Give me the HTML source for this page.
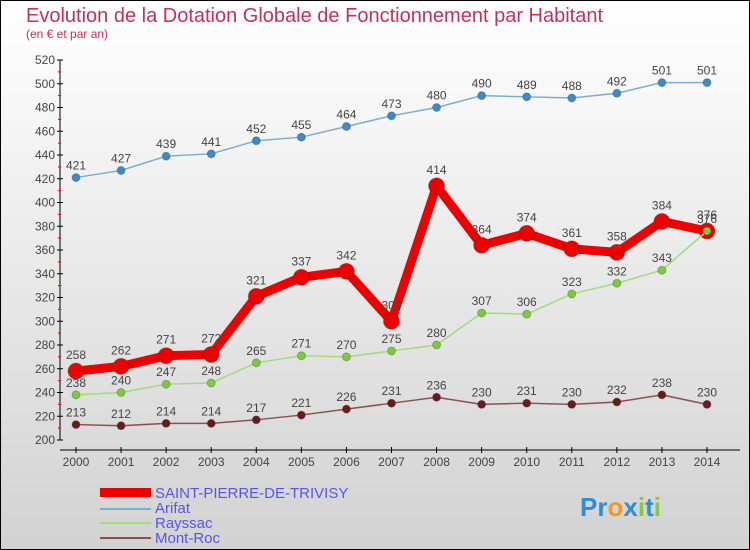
<!DOCTYPE html>
<html><head><meta charset="utf-8"><style>
body{margin:0;width:750px;height:550px;overflow:hidden;font-family:"Liberation Sans",sans-serif}
svg{display:block}
</style></head><body>
<svg width="750" height="550" xmlns="http://www.w3.org/2000/svg">
<defs><linearGradient id="bg" x1="0" y1="0" x2="0" y2="1"><stop offset="0" stop-color="#ffffff"/><stop offset="1" stop-color="#d2d2d2"/></linearGradient></defs>
<rect x="0.5" y="0.5" width="749" height="549" fill="url(#bg)" stroke="#000"/>
<text x="26" y="22" font-size="20" fill="#c0325f">Evolution de la Dotation Globale de Fonctionnement par Habitant</text>
<text x="26" y="38" font-size="12" fill="#c0325f">(en € et par an)</text>
<g id="axes"></g>
<g id="series"></g>
<g id="legend" font-size="15" fill="#5555ee">
<rect x="100" y="488" width="51" height="9" fill="#ee0000"/>
<text x="155" y="498">SAINT-PIERRE-DE-TRIVISY</text>
<rect x="100" y="508" width="51" height="2" fill="#7aaed0"/>
<text x="155" y="513">Arifat</text>
<rect x="100" y="522" width="51" height="2" fill="#9fdc7a"/>
<text x="155" y="528">Rayssac</text>
<rect x="100" y="537" width="51" height="2" fill="#8b5050"/>
<text x="155" y="543">Mont-Roc</text>
</g>
<g font-size="26" font-weight="bold">
<text x="580" y="516"><tspan fill="#2a8fd8">Pr</tspan><tspan fill="#f39a1e">o</tspan><tspan fill="#2a8fd8">x</tspan><tspan fill="#8cc63f">i</tspan><tspan fill="#2a8fd8">t</tspan><tspan fill="#8cc63f">i</tspan></text>
</g>
</svg>
<script>
const years=[2000,2001,2002,2003,2004,2005,2006,2007,2008,2009,2010,2011,2012,2013,2014];
const yTicks=[200,220,240,260,280,300,320,340,360,380,400,420,440,460,480,500,520];
const saintPierre=[258,262,271,272,321,337,342,300,414,364,374,361,358,384,376];
const arifat=[421,427,439,441,452,455,464,473,480,490,489,488,492,501,501];
const rayssac=[238,240,247,248,265,271,270,275,280,307,306,323,332,343,376];
const montRoc=[213,212,214,214,217,221,226,231,236,230,231,230,232,238,230];
const NS="http://www.w3.org/2000/svg";
const xS=i=>76+i*(707-76)/14;
const yS=v=>440-(v-200)*380/320;
function mk(t,a,p){const e=document.createElementNS(NS,t);for(const k in a)e.setAttribute(k,a[k]);p.appendChild(e);return e;}
const ax=document.getElementById('axes');
const yl=mk('line',{x1:60,y1:60,x2:60,y2:440,stroke:'#000'},ax);


yTicks.forEach((t,i)=>{
  const y=yS(t);
  mk('line',{x1:57,y1:y,x2:63,y2:y,stroke:'#000'},ax);
  const tx=mk('text',{x:55,y:y+4,'font-size':12,fill:'#444','text-anchor':'end'},ax);
  tx.textContent=t;
  
  
  if(i<yTicks.length-1){const m=yS(t+10);mk('line',{x1:58,y1:m,x2:61,y2:m,stroke:'#e00'},ax);}
});
const xl=mk('line',{x1:60,y1:450,x2:740,y2:450,stroke:'#000'},ax);


years.forEach((yr,i)=>{
  const x=xS(i);
  mk('line',{x1:x,y1:447,x2:x,y2:453,stroke:'#000'},ax);
  const tx=mk('text',{x:x,y:466,'font-size':12,fill:'#444','text-anchor':'middle'},ax);
  tx.textContent=yr;
  
  
});
const sg=document.getElementById('series');
function series(data,name,color,w,r,dot){
  const g=mk('g',{},sg);
  
  
  const pts=data.map((v,i)=>xS(i)+','+yS(v)).join(' ');
  mk('polyline',{points:pts,fill:'none',stroke:color,'stroke-width':w,'stroke-linejoin':'round'},g);
  data.forEach((v,i)=>{
    const c=mk('circle',{cx:xS(i),cy:yS(v),r:r,fill:dot,stroke:'#333','stroke-opacity':0.3},g);
    
    
    const t=mk('text',{x:xS(i),y:yS(v)-8-(r>5?4:0),'font-size':12,fill:'#444','text-anchor':'middle'},g);
    t.textContent=v;
    
    
  });
}
series(montRoc,'mont-roc-series','#8b5050',1.5,4,'#6b1a1a');
series(arifat,'arifat-series','#7aaed0',1.5,4,'#3a8cc8');
series(saintPierre,'saint-pierre-series','#ee0000',9,8,'#ee0000');
series(rayssac,'rayssac-series','#9fdc7a',1.5,4,'#7ccc3a');
</script>
</body></html>
